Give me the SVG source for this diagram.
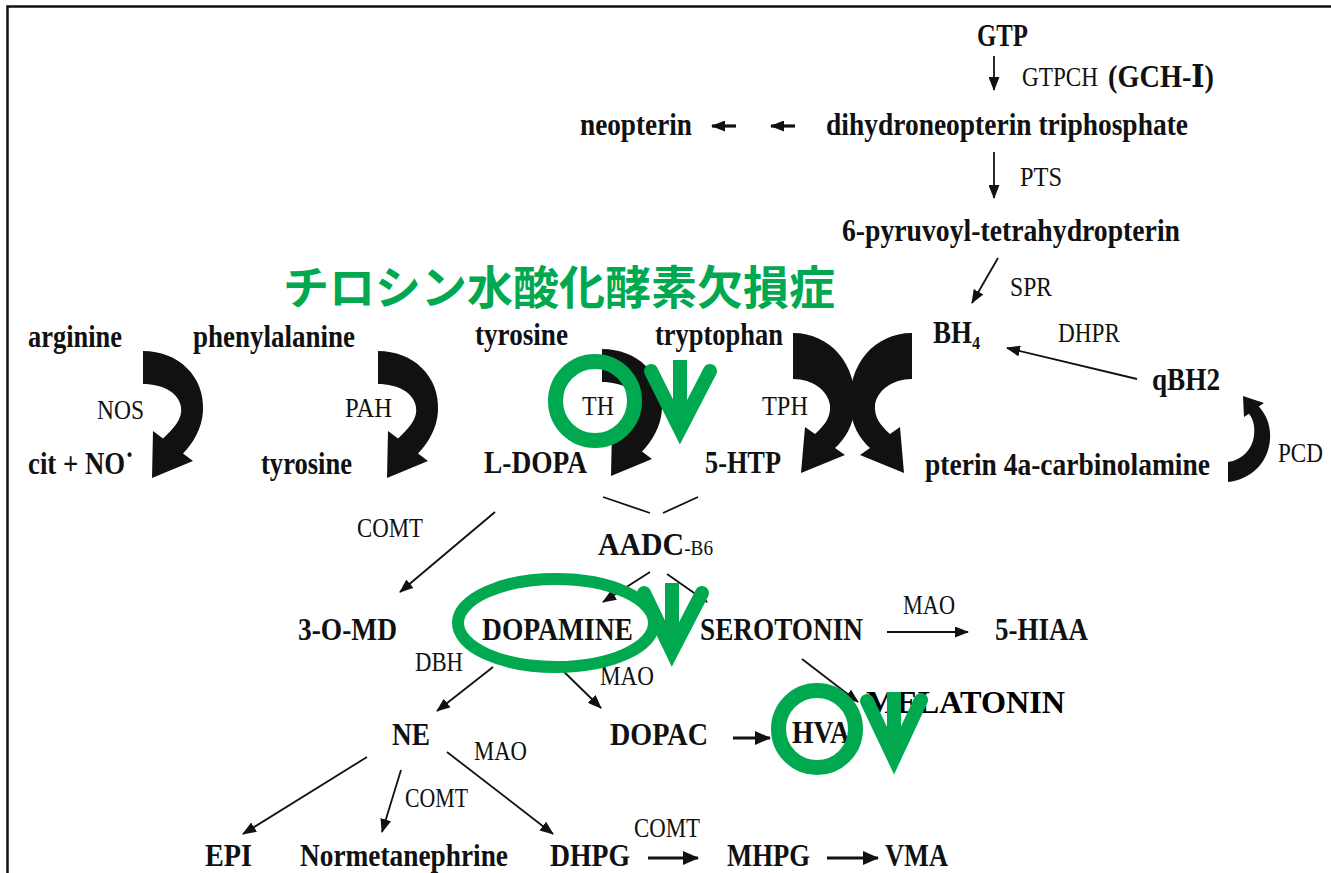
<svg xmlns="http://www.w3.org/2000/svg" width="1331" height="873" viewBox="0 0 1331 873">
<defs>
<style>
.b{font-family:"Liberation Serif","DejaVu Serif",serif;font-weight:bold;font-size:31px;fill:#111}
.n{font-family:"Liberation Serif","DejaVu Serif",serif;font-size:27px;fill:#111}
.jp{font-family:"Noto Sans CJK JP",sans-serif;font-weight:bold;font-size:46px;fill:#00A94F}
.ln{stroke:#111;stroke-width:1.8;fill:none}
.th{stroke:#111;stroke-width:3.2;fill:none}
.cv{fill:#111}
.gr{stroke:#00A94F;fill:none}
</style>
<marker id="ah" markerUnits="userSpaceOnUse" markerWidth="14" markerHeight="11" refX="13" refY="5.5" orient="auto">
<path d="M0,0 L14,5.5 L0,11 Z" fill="#111"/>
</marker>
<marker id="ahb" markerUnits="userSpaceOnUse" markerWidth="16" markerHeight="14" refX="15" refY="7" orient="auto">
<path d="M0,0 L16,7 L0,14 Z" fill="#111"/>
</marker>
<path id="cvS" d="M0,0 C35,0 62,25 60,60 C59,78 50,92 40,102.5 L50,110 L9,127 L10,80 L20,87.5 C30,78 40,68 38,56 C36,42 20,33 0,33 Z"/>
<path id="cvL" d="M0,0 C38,0 64,32 62,72 C61,92 52,106 42,115 L52,122 L8,140 L12,94 L22,101 C32,92 38,84 37,72 C35,58 20,46 0,46 Z"/>
</defs>
<rect x="0" y="0" width="1331" height="873" fill="#fff"/>
<path d="M7.5,873 L7.5,6.5 L1331,6.5" stroke="#111" stroke-width="2.5" fill="none"/>

<g id="connectors">
<line class="ln" x1="994" y1="56" x2="994" y2="90" marker-end="url(#ah)"/>
<line class="ln" x1="994" y1="152" x2="994" y2="198" marker-end="url(#ah)"/>
<line class="ln" x1="998" y1="258" x2="972" y2="303" marker-end="url(#ah)"/>
<line class="th" x1="736" y1="126" x2="712" y2="126" marker-end="url(#ah)"/>
<line class="th" x1="795" y1="126" x2="771" y2="126" marker-end="url(#ah)"/>
<line class="ln" x1="1137" y1="379" x2="1007" y2="348" marker-end="url(#ah)"/>
<line class="ln" x1="495" y1="512" x2="400" y2="592" marker-end="url(#ah)"/>
<line class="ln" x1="603" y1="497" x2="650" y2="513"/>
<line class="ln" x1="663" y1="513" x2="698" y2="497"/>
<line class="ln" x1="650" y1="572" x2="603" y2="602" marker-end="url(#ah)"/>
<line class="ln" x1="667" y1="574" x2="707" y2="602" marker-end="url(#ah)"/>
<line class="ln" x1="887" y1="632" x2="968" y2="632" marker-end="url(#ah)"/>
<line class="ln" x1="802" y1="659" x2="858" y2="702" marker-end="url(#ah)"/>
<line class="ln" x1="493" y1="667" x2="437" y2="711" marker-end="url(#ah)"/>
<line class="ln" x1="555" y1="663" x2="601" y2="708" marker-end="url(#ah)"/>
<line class="th" x1="733" y1="738" x2="770" y2="738" marker-end="url(#ahb)"/>
<line class="ln" x1="367" y1="757" x2="243" y2="834" marker-end="url(#ah)"/>
<line class="ln" x1="401" y1="770" x2="382" y2="832" marker-end="url(#ah)"/>
<line class="ln" x1="447" y1="752" x2="553" y2="834" marker-end="url(#ah)"/>
<line class="th" x1="648" y1="858" x2="698" y2="858" marker-end="url(#ahb)"/>
<line class="th" x1="827" y1="858" x2="878" y2="858" marker-end="url(#ahb)"/>
<use href="#cvS" class="cv" transform="translate(143,351)"/>
<use href="#cvS" class="cv" transform="translate(378,351)"/>
<use href="#cvS" class="cv" transform="translate(602,349)"/>
<use href="#cvL" class="cv" transform="translate(793,333)"/>
<use href="#cvL" class="cv" transform="translate(912,333) scale(-1,1)"/>
<path class="cv" d="M1228,482 C1250,480 1272,462 1270,432 C1269,420 1264,412 1258.8,406.4 L1264,403 L1243,396 L1244,417 L1249,413.8 C1254,420 1255,428 1254,436 C1252,450 1242,460 1228,462 Z"/>
</g>

<g id="n-gtp"><text class="b" x="977" y="46" textLength="51" lengthAdjust="spacingAndGlyphs">GTP</text></g>
<g id="l-gtpch"><text class="n" x="1022" y="86" font-size="23" textLength="76" lengthAdjust="spacingAndGlyphs">GTPCH</text></g>
<g id="l-gch"><text class="b" x="1108" y="87" font-size="19" textLength="106" lengthAdjust="spacingAndGlyphs">(GCH-Ⅰ)</text></g>
<g id="n-neopterin"><text class="b" x="580" y="135" textLength="112" lengthAdjust="spacingAndGlyphs">neopterin</text></g>
<g id="n-dntp"><text class="b" x="826" y="135" textLength="362" lengthAdjust="spacingAndGlyphs">dihydroneopterin triphosphate</text></g>
<g id="l-pts"><text class="n" x="1020" y="186" font-size="23" textLength="42" lengthAdjust="spacingAndGlyphs">PTS</text></g>
<g id="n-6ptp"><text class="b" x="842" y="241" textLength="338" lengthAdjust="spacingAndGlyphs">6-pyruvoyl-tetrahydropterin</text></g>
<g id="l-spr"><text class="n" x="1010" y="296" font-size="23" textLength="42" lengthAdjust="spacingAndGlyphs">SPR</text></g>
<g id="title"><text class="jp" x="283" y="304" textLength="552" lengthAdjust="spacingAndGlyphs">チロシン水酸化酵素欠損症</text></g>

<g id="n-arginine"><text class="b" x="28" y="347" textLength="94" lengthAdjust="spacingAndGlyphs">arginine</text></g>
<g id="n-phe"><text class="b" x="193" y="347" textLength="162" lengthAdjust="spacingAndGlyphs">phenylalanine</text></g>
<g id="n-tyr1"><text class="b" x="475" y="345" textLength="93" lengthAdjust="spacingAndGlyphs">tyrosine</text></g>
<g id="n-trp"><text class="b" x="655" y="345" textLength="128" lengthAdjust="spacingAndGlyphs">tryptophan</text></g>
<g id="n-bh4"><text class="b" x="933" y="343" textLength="47" lengthAdjust="spacingAndGlyphs">BH₄</text></g>
<g id="l-dhpr"><text class="n" x="1058" y="342" textLength="62" lengthAdjust="spacingAndGlyphs">DHPR</text></g>
<g id="n-qbh2"><text class="b" x="1152" y="390" textLength="68" lengthAdjust="spacingAndGlyphs">qBH2</text></g>
<g id="l-nos"><text class="n" x="97" y="419" textLength="47" lengthAdjust="spacingAndGlyphs">NOS</text></g>
<g id="l-pah"><text class="n" x="345" y="417" textLength="47" lengthAdjust="spacingAndGlyphs">PAH</text></g>
<g id="l-th"><text class="n" x="582" y="415" textLength="32" lengthAdjust="spacingAndGlyphs">TH</text></g>
<g id="l-tph"><text class="n" x="762" y="415" textLength="46" lengthAdjust="spacingAndGlyphs">TPH</text></g>
<g id="n-citno"><text class="b" x="28" y="474" textLength="106" lengthAdjust="spacingAndGlyphs">cit + NO˙</text></g>
<g id="n-tyr2"><text class="b" x="261" y="474" textLength="91" lengthAdjust="spacingAndGlyphs">tyrosine</text></g>
<g id="n-ldopa"><text class="b" x="484" y="473" textLength="103" lengthAdjust="spacingAndGlyphs">L-DOPA</text></g>
<g id="n-5htp"><text class="b" x="705" y="473" textLength="76" lengthAdjust="spacingAndGlyphs">5-HTP</text></g>
<g id="n-pterin"><text class="b" x="925" y="475" textLength="285" lengthAdjust="spacingAndGlyphs">pterin 4a-carbinolamine</text></g>
<g id="l-pcd"><text class="n" x="1278" y="462" textLength="45" lengthAdjust="spacingAndGlyphs">PCD</text></g>

<g id="l-comt1"><text class="n" x="357" y="537" textLength="66" lengthAdjust="spacingAndGlyphs">COMT</text></g>
<g id="n-aadc"><text class="b" x="598" y="555" textLength="115" lengthAdjust="spacingAndGlyphs">AADC<tspan font-size="20" font-weight="normal">-B6</tspan></text></g>
<g id="n-3omd"><text class="b" x="298" y="640" textLength="99" lengthAdjust="spacingAndGlyphs">3-O-MD</text></g>
<g id="n-dopamine"><text class="b" x="482" y="640" textLength="151" lengthAdjust="spacingAndGlyphs">DOPAMINE</text></g>
<g id="n-serotonin"><text class="b" x="700" y="640" textLength="163" lengthAdjust="spacingAndGlyphs">SEROTONIN</text></g>
<g id="l-mao1"><text class="n" x="903" y="614" textLength="52" lengthAdjust="spacingAndGlyphs">MAO</text></g>
<g id="n-5hiaa"><text class="b" x="995" y="640" textLength="93" lengthAdjust="spacingAndGlyphs">5-HIAA</text></g>
<g id="l-dbh"><text class="n" x="415" y="671" textLength="48" lengthAdjust="spacingAndGlyphs">DBH</text></g>
<g id="l-mao2"><text class="n" x="600" y="685" textLength="54" lengthAdjust="spacingAndGlyphs">MAO</text></g>
<g id="n-melatonin"><text x="866" y="713" font-family="Liberation Serif, serif" font-weight="bold" font-size="31" fill="#000" textLength="199" lengthAdjust="spacingAndGlyphs">MELATONIN</text></g>
<g id="n-ne"><text class="b" x="392" y="745" textLength="38" lengthAdjust="spacingAndGlyphs">NE</text></g>
<g id="n-dopac"><text class="b" x="610" y="745" textLength="98" lengthAdjust="spacingAndGlyphs">DOPAC</text></g>
<g id="n-hva"><text class="b" x="792" y="743" textLength="58" lengthAdjust="spacingAndGlyphs">HVA</text></g>
<g id="l-mao3"><text class="n" x="474" y="760" textLength="53" lengthAdjust="spacingAndGlyphs">MAO</text></g>
<g id="l-comt2"><text class="n" x="405" y="807" textLength="63" lengthAdjust="spacingAndGlyphs">COMT</text></g>
<g id="l-comt3"><text class="n" x="634" y="837" textLength="66" lengthAdjust="spacingAndGlyphs">COMT</text></g>
<g id="n-epi"><text class="b" x="205" y="866" textLength="47" lengthAdjust="spacingAndGlyphs">EPI</text></g>
<g id="n-normet"><text class="b" x="300" y="866" textLength="208" lengthAdjust="spacingAndGlyphs">Normetanephrine</text></g>
<g id="n-dhpg"><text class="b" x="550" y="866" textLength="80" lengthAdjust="spacingAndGlyphs">DHPG</text></g>
<g id="n-mhpg"><text class="b" x="727" y="866" textLength="83" lengthAdjust="spacingAndGlyphs">MHPG</text></g>
<g id="n-vma"><text class="b" x="885" y="866" textLength="63" lengthAdjust="spacingAndGlyphs">VMA</text></g>

<g id="annotations">
<circle class="gr" cx="595" cy="401" r="39.5" stroke-width="15"/>
<path class="gr" d="M651,371 L680,429 L710,371" stroke-width="14" stroke-linecap="round" stroke-linejoin="miter"/>
<line class="gr" x1="680" y1="360" x2="680" y2="425" stroke-width="14"/>
<ellipse class="gr" cx="556" cy="623" rx="98" ry="44" stroke-width="12"/>
<path class="gr" d="M644,593 L672,651 L702,593" stroke-width="14" stroke-linecap="round" stroke-linejoin="miter"/>
<line class="gr" x1="672" y1="583" x2="672" y2="648" stroke-width="14"/>
<circle class="gr" cx="817" cy="729" r="38.5" stroke-width="15"/>
<path class="gr" d="M867,701 L894,758 L921,700" stroke-width="14" stroke-linecap="round" stroke-linejoin="miter"/>
<line class="gr" x1="894" y1="692" x2="894" y2="755" stroke-width="14"/>
</g>
</svg>
